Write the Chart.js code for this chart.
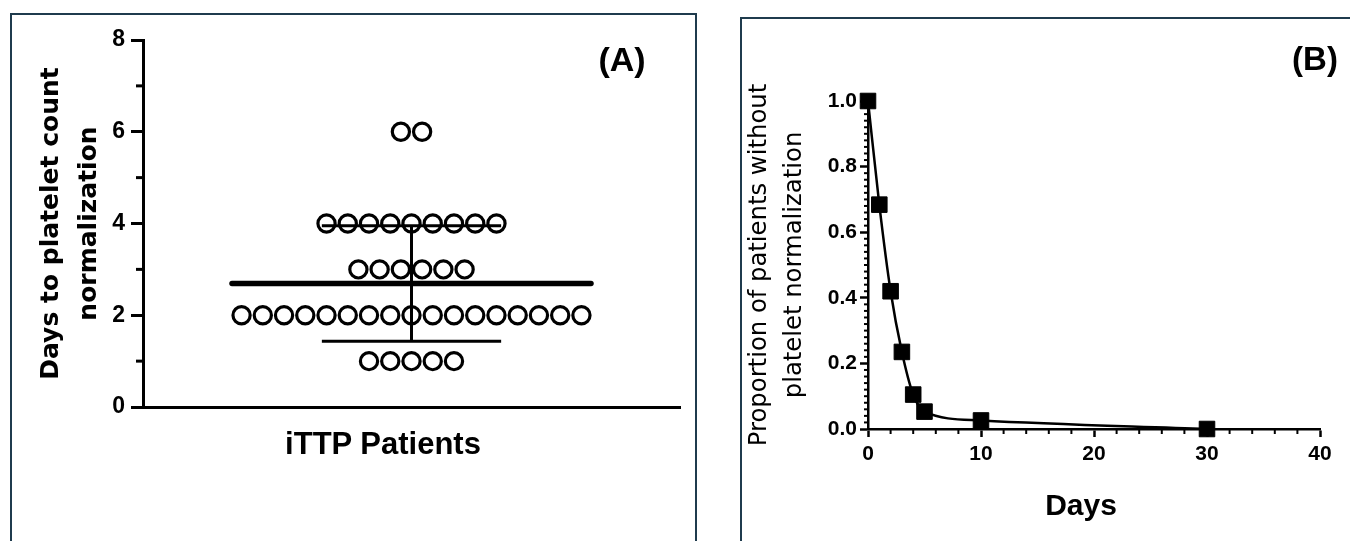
<!DOCTYPE html>
<html><head><meta charset="utf-8">
<script src="https://cdn.jsdelivr.net/npm/chart.js@4.4.1/dist/chart.umd.min.js"></script>
<style>
html,body{margin:0;padding:0;background:#fff;width:1350px;height:541px;overflow:hidden;position:relative;font-family:"Liberation Sans",Arial,sans-serif;}
.panel{position:absolute;border:2px solid #1f3b4d;box-sizing:border-box;}
#pa{left:10px;top:13px;width:687px;height:600px;}
#pb{left:740px;top:17px;width:700px;height:600px;}
.wrap{position:absolute;top:0;height:541px;}
#wa{left:0;width:700px;}
#wb{left:720px;width:630px;}
.lbl{position:absolute;font-weight:bold;color:#000;white-space:nowrap;line-height:1;transform:translate(-50%,-50%);font-family:"Liberation Sans",Arial,sans-serif;}
</style></head><body>
<div class="panel" id="pa"></div>
<div class="panel" id="pb"></div>
<div class="wrap" id="wa"><canvas id="ca"></canvas></div>
<div class="wrap" id="wb"><canvas id="cb"></canvas></div>
<div class="lbl" style="left:622px;top:59px;font-size:34px;">(A)</div>
<div class="lbl" style="left:1315px;top:58px;font-size:33px;">(B)</div>
<div class="lbl" style="left:383px;top:443px;font-size:31px;">iTTP Patients</div>
<div class="lbl" style="left:1081px;top:505px;font-size:30px;">Days</div>
<script>
// ---- Data (panel A): days to platelet count normalization, one value per patient
const patientDays = [
  1,1,1,1,1,
  2,2,2,2,2,2,2,2,2,2,2,2,2,2,2,2,2,
  3,3,3,3,3,3,
  4,4,4,4,4,4,4,4,4,
  6,6
];
const panelAYTicks = [0,2,4,6,8];

// ---- Data (panel B): proportion of patients without platelet normalization
const survivalDays = [0,1,2,3,4,5,10,30];
const survivalProportion = [1.0,0.684,0.42,0.235,0.105,0.053,0.026,0.0];
const panelBXTicks = [0,10,20,30,40];
const panelBYTicks = [0,0.2,0.4,0.6,0.8,1.0];

// ---- minor tick plugin (uses the chart's own scales)
const minorTicks = {
  id:'minorTicks',
  afterDraw(chart, args, opts){
    const ctx = chart.ctx;
    (opts.list||[]).forEach(m=>{
      const s = chart.scales[m.scale];
      ctx.save(); ctx.strokeStyle='#000'; ctx.lineWidth=m.width; ctx.lineCap='butt';
      const n = Math.round((m.to-m.from)/m.step);
      for (let i=0;i<=n;i++){
        const v = m.from + i*m.step;
        if (m.skipEvery && Math.abs(v/m.skipEvery - Math.round(v/m.skipEvery))<1e-6) continue;
        const p = s.getPixelForValue(v);
        ctx.beginPath();
        if (s.isHorizontal()){ ctx.moveTo(p, s.top); ctx.lineTo(p, s.top+m.len); }
        else { ctx.moveTo(s.right, p); ctx.lineTo(s.right-m.len, p); }
        ctx.stroke();
      }
      ctx.restore();
    });
  }
};
Chart.register(minorTicks);

// ---- Panel A: beeswarm layout + mean ± SD
const counts = {};
patientDays.forEach(v=>{ counts[v]=(counts[v]||0)+1; });
const swarm = [];
Object.keys(counts).forEach(k=>{
  const n = counts[k], v = +k;
  for (let i=0;i<n;i++) swarm.push({x: i-(n-1)/2, y: v});
});
const N = patientDays.length;
const mean = patientDays.reduce((a,b)=>a+b,0)/N;
const sd = Math.sqrt(patientDays.reduce((a,b)=>a+(b-mean)*(b-mean),0)/(N-1));
const MEAN_HALF = 8.45, CAP_HALF = 4.22;

new Chart(document.getElementById('ca'), {
  type:'scatter',
  data:{datasets:[
    {data:swarm, pointStyle:'circle', pointRadius:8.6, pointBorderWidth:3.2, borderColor:'#000', backgroundColor:'rgba(0,0,0,0)', pointHoverRadius:8.6},
    {type:'line', data:[{x:-MEAN_HALF,y:mean},{x:MEAN_HALF,y:mean}], borderColor:'#000', borderWidth:5.5, pointRadius:0, borderCapStyle:'round'},
    {type:'line', data:[{x:-CAP_HALF,y:mean+sd},{x:CAP_HALF,y:mean+sd}], borderColor:'#000', borderWidth:3, pointRadius:0},
    {type:'line', data:[{x:-CAP_HALF,y:mean-sd},{x:CAP_HALF,y:mean-sd}], borderColor:'#000', borderWidth:3, pointRadius:0},
    {type:'line', data:[{x:0,y:mean-sd},{x:0,y:mean+sd}], borderColor:'#000', borderWidth:3, pointRadius:0}
  ]},
  options:{
    responsive:true, maintainAspectRatio:false, animation:false, events:[],
    layout:{padding:{left:0,top:40,right:20,bottom:0}},
    plugins:{legend:{display:false}, tooltip:{enabled:false},
      minorTicks:{list:[{scale:'y',from:1,to:7,step:2,len:7,width:3}]}},
    scales:{
      x:{type:'linear', min:-12.64, max:12.64,
        ticks:{display:false}, grid:{display:false},
        border:{display:true,color:'#000',width:3},
        afterFit:s=>{s.height=134;}},
      y:{type:'linear', min:0, max:8,
        afterBuildTicks:s=>{s.ticks=panelAYTicks.map(v=>({value:v}));},
        ticks:{color:'#000', padding:6, font:{family:'"Liberation Sans", Arial', weight:'bold', size:23}},
        grid:{display:true, drawOnChartArea:false, drawTicks:true, tickLength:12, tickWidth:3, tickColor:'#000'},
        border:{display:true,color:'#000',width:3},
        title:{display:true, text:['Days to platelet count','normalization'], color:'#000',
          font:{family:'"DejaVu Sans", sans-serif', weight:'bold', size:25, lineHeight:1.5}, padding:{top:33,bottom:0}},
        afterFit:s=>{s.width=143;}}
    }
  }
});

// ---- Panel B
new Chart(document.getElementById('cb'), {
  type:'line',
  data:{datasets:[{
    data: survivalDays.map((d,i)=>({x:d,y:survivalProportion[i]})),
    borderColor:'#000', backgroundColor:'#000', borderWidth:2.5,
    pointStyle:'rect', pointRadius:11, pointBorderWidth:1, pointHoverRadius:11,
    cubicInterpolationMode:'monotone', clip:false
  }]},
  options:{
    responsive:true, maintainAspectRatio:false, animation:false, events:[],
    layout:{padding:{left:0,top:101,right:30,bottom:0}},
    plugins:{legend:{display:false}, tooltip:{enabled:false},
      minorTicks:{list:[
        {scale:'x',from:0,to:40,step:2,len:5,width:2,skipEvery:10},
        {scale:'y',from:0,to:1,step:0.02,len:4,width:2,skipEvery:0.2}
      ]}},
    scales:{
      x:{type:'linear', min:0, max:40,
        afterBuildTicks:s=>{s.ticks=panelBXTicks.map(v=>({value:v}));},
        ticks:{color:'#000', padding:5, maxRotation:0, font:{family:'"Liberation Sans", Arial', weight:'bold', size:21}},
        grid:{display:true, drawOnChartArea:false, drawTicks:true, tickLength:8, tickWidth:2.5, tickColor:'#000'},
        border:{display:true,color:'#000',width:2.5},
        afterFit:s=>{s.height=112;}},
      y:{type:'linear', min:0, max:1,
        afterBuildTicks:s=>{s.ticks=panelBYTicks.map(v=>({value:v}));},
        ticks:{color:'#000', padding:3, callback:v=>v.toFixed(1), font:{family:'"Liberation Sans", Arial', weight:'bold', size:21}},
        grid:{display:true, drawOnChartArea:false, drawTicks:true, tickLength:8, tickWidth:2.5, tickColor:'#000'},
        border:{display:true,color:'#000',width:2.5},
        title:{display:true, text:['Proportion of patients without','platelet normalization'], color:'#000',
          font:{family:'"DejaVu Sans", sans-serif', weight:'normal', size:24.3, lineHeight:1.45}, padding:{top:22,bottom:0}},
        afterFit:s=>{s.width=148;}}
    }
  }
});
</script>
</body></html>
